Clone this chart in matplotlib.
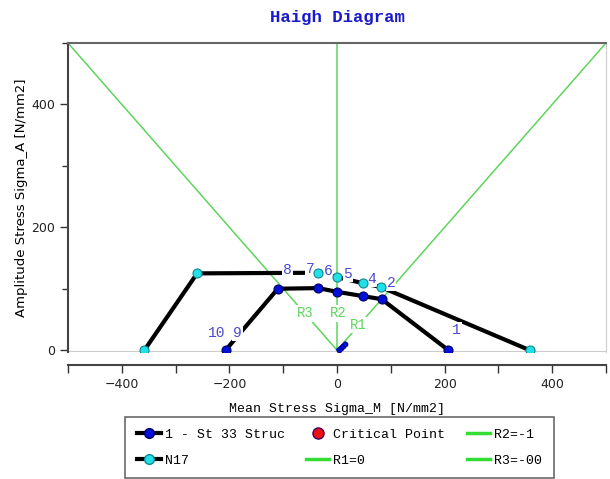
import numpy as np
import matplotlib
matplotlib.use("Agg")
import matplotlib.pyplot as plt
from matplotlib.lines import Line2D

# mean stress / amplitude pairs of the two Haigh curves
st33_sm = [-207, -110, -35, 0, 48, 83, 207]
st33_sa = [0, 100, 101, 95, 88, 83, 0]
n17_sm = [-358, -260, -35, 0, 48, 81, 358]
n17_sa = [0, 125, 126, 119, 109, 103, 0]

# critical points sitting near the origin
crit_sm = [3, 7, 11, 15]
crit_sa = [1, 4, 7, 10]

# point numbers and where they are written
point_ids = ["8", "7", "6", "5", "4", "2", "1", "10", "9"]
point_id_sm = [-92, -50, -17, 20, 64, 101, 222, -224, -185]
point_id_sa = [131, 132, 129, 124, 116, 109, 33, 28, 28]

# stress ratio lines R = sigma_min / sigma_max
ratio_names = ["R2=-1", "R1=0", "R3=-00"]
ratio_tags = ["R2", "R1", "R3"]
ratio_end_sm = [0, 500, -500]
ratio_end_sa = [500, 500, 500]
ratio_tag_sm = [2, 40, -59]
ratio_tag_sa = [60, 41, 60]

mono = "Liberation Mono"
green = "#5cd65c"
blue = "#0010d8"
cyan = "#22e0e8"

fig = plt.figure(figsize=(6.10, 4.79), dpi=100)
ax = fig.add_axes([68 / 610, 1 - 352 / 479, 538 / 610, 309 / 479])
ax.set_xlim(-500, 500)
ax.set_ylim(-3, 500)

# ratio lines from the origin
ratio_handles = {}
for name, tag, xe, ye, tx, ty in zip(ratio_names, ratio_tags, ratio_end_sm,
                                     ratio_end_sa, ratio_tag_sm, ratio_tag_sa):
    ln, = ax.plot([0, xe], [0, ye], color=green, lw=1.1, zorder=1)
    ratio_handles[name] = ln
    ax.text(tx, ty, tag, color=green, fontsize=10, family=mono,
            ha="center", va="center", zorder=4,
            bbox=dict(boxstyle="square,pad=0.1", fc="white", ec="none"))

# curves first, numbers over the lines, markers on top
ax.plot(n17_sm, n17_sa, color="black", lw=3, zorder=2)
ax.plot(st33_sm, st33_sa, color="black", lw=3, zorder=2)
ax.plot(crit_sm, crit_sa, color=blue, lw=3, zorder=3)

for lab, x, y in zip(point_ids, point_id_sm, point_id_sa):
    ax.text(x, y, lab, color="#4a4ad0", fontsize=10.5, family=mono,
            ha="center", va="center", zorder=5,
            bbox=dict(boxstyle="square,pad=0.05", fc="white", ec="none"))

ax.plot(n17_sm, n17_sa, ls="none", zorder=6,
        marker="o", ms=6.5, mfc=cyan, mec="#108890", mew=0.8)
ax.plot(st33_sm, st33_sa, ls="none", zorder=6,
        marker="o", ms=6.5, mfc=blue, mec="#000060", mew=0.8)
ax.plot(crit_sm, crit_sa, ls="none", zorder=6,
        marker="o", ms=3.5, mfc=blue, mec="#000080", mew=0.6)

# frame and axes
ax.spines["top"].set_color("#666666")
ax.spines["top"].set_linewidth(1.5)
ax.spines["right"].set_color("#cccccc")
ax.spines["left"].set_color("#444444")
ax.spines["left"].set_linewidth(1.5)
ax.spines["bottom"].set_color("#444444")
ax.spines["bottom"].set_linewidth(1.5)
ax.spines["bottom"].set_position(("outward", 9))
ax.axhline(-3, color="#cccccc", lw=1.5, zorder=0)

ax.set_xticks([-400, -200, 0, 200, 400])
ax.set_xticks([-500, -300, -100, 100, 300, 500], minor=True)
ax.set_yticks([0, 200, 400])
ax.set_yticks([100, 300, 500], minor=True)
ax.tick_params(which="major", length=6, width=1, color="#333333",
               labelsize=9, labelcolor="#222222")
ax.tick_params(which="minor", length=6, width=1, color="#333333")
ax.tick_params(axis="y", which="minor", length=4)

ax.set_title("Haigh Diagram", color="#1a1acc", fontsize=12.5,
             fontweight="bold", family=mono, pad=15)
ax.set_xlabel("Mean Stress Sigma_M [N/mm2]", fontsize=9.5, family=mono,
              labelpad=9)
ax.set_ylabel("Amplitude Stress Sigma_A [N/mm2]", fontsize=9.5, labelpad=2)

handles = [
    Line2D([], [], color="black", lw=3, marker="o", ms=7, mfc=blue, mec="#000060"),
    Line2D([], [], color="black", lw=3, marker="o", ms=7, mfc=cyan, mec="#108890"),
    Line2D([], [], ls="none", marker="o", ms=8, mfc="#ee1010", mec="#400060"),
    ratio_handles["R1=0"],
    ratio_handles["R2=-1"],
    ratio_handles["R3=-00"],
]
labels = ["1 - St 33 Struc", "N17", "Critical Point", "R1=0", "R2=-1", "R3=-00"]
leg = fig.legend(handles, labels, ncol=3, loc="upper left",
                 bbox_to_anchor=(125 / 610, 1 - 417 / 479),
                 prop={"family": mono, "size": 9.5}, frameon=True,
                 fancybox=False, edgecolor="#444444", handlelength=1.8,
                 handletextpad=0.3, columnspacing=1.6, borderpad=0.9,
                 labelspacing=1.0, borderaxespad=0)
leg.get_frame().set_linewidth(1.2)
for h in leg.legend_handles[3:]:
    h.set_linewidth(2.5)
    h.set_color("#33dd33")

fig.savefig("out.png", dpi=100)
